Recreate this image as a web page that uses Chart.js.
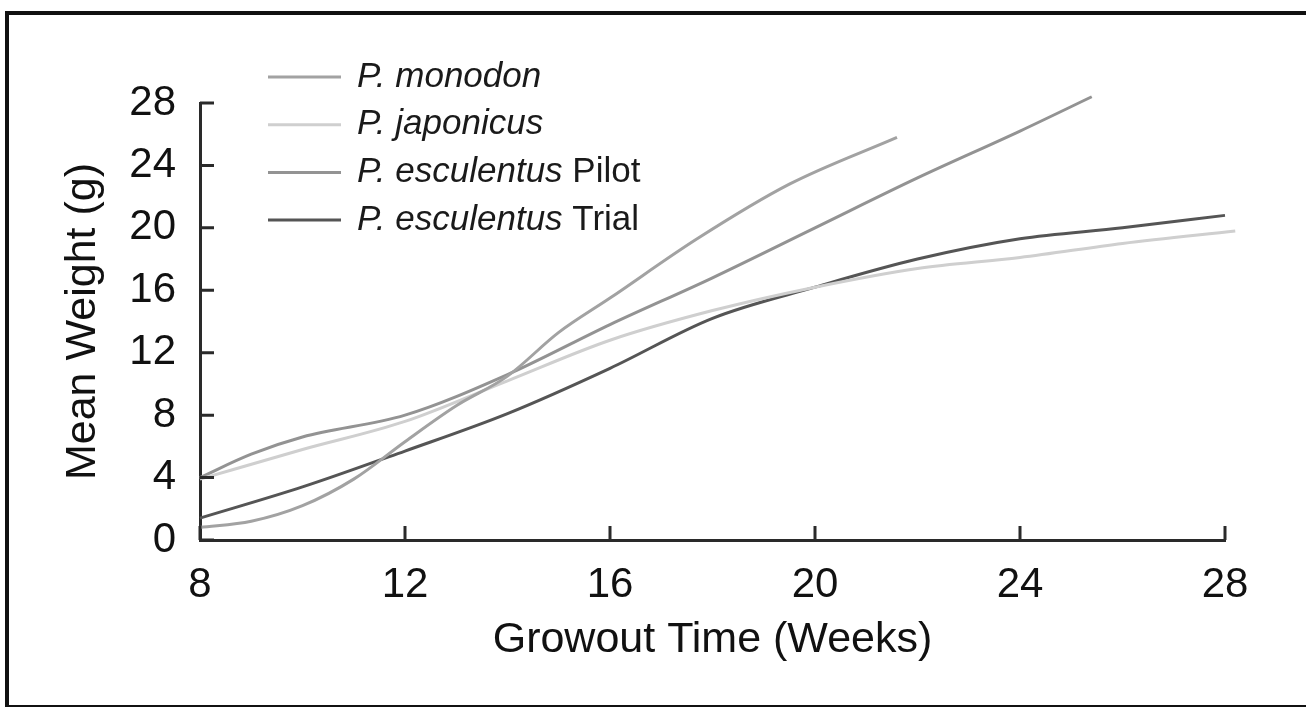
<!DOCTYPE html>
<html>
<head>
<meta charset="utf-8">
<script src="https://cdn.jsdelivr.net/npm/chart.js@4.4.1/dist/chart.umd.min.js"></script>
<style>
  html, body { margin: 0; padding: 0; background: #fff; }
  #wrap { position: relative; width: 1306px; height: 707px; overflow: hidden; }
  #frame { position: absolute; left: 5px; top: 11px; width: 1400px; height: 690px;
           border-left: 4px solid #111; border-top: 4px solid #111; border-bottom: 3px solid #111; }
  canvas { position: absolute; left: 0; top: 0; }
</style>
</head>
<body>
<div id="wrap">
  <div id="frame"></div>
  <canvas id="myChart"></canvas>
</div>
<script>
// series data (weeks, mean weight in g)
var monodonWeeks  = [8, 9, 10, 11, 12, 13, 14, 15, 16, 17.7, 19.5, 21.6];
var monodonWeight = [0.8, 1.2, 2.2, 3.9, 6.3, 8.6, 10.5, 13.3, 15.5, 19.3, 22.8, 25.8];

var japonicusWeeks  = [8, 10, 12, 14, 16, 18, 20, 22, 24, 26, 28.2];
var japonicusWeight = [3.9, 5.8, 7.6, 10.2, 12.8, 14.7, 16.2, 17.4, 18.1, 19.0, 19.8];

var pilotWeeks  = [8, 9, 10, 12, 14, 16, 18, 20, 22, 24, 25.4];
var pilotWeight = [4.0, 5.5, 6.6, 8.0, 10.6, 13.8, 16.8, 20.0, 23.2, 26.2, 28.4];

var trialWeeks  = [8, 10, 12, 14, 16, 18, 20, 22, 24, 26, 28];
var trialWeight = [1.4, 3.4, 5.7, 8.1, 11.0, 14.2, 16.2, 18.0, 19.3, 20.0, 20.8];

var seriesItalic = ['P. monodon', 'P. japonicus', 'P. esculentus', 'P. esculentus'];
var seriesSuffix = ['', '', ' Pilot', ' Trial'];
var seriesColors = ['#a2a2a2', '#cfcfcf', '#939393', '#555555'];

var xTicks = [8, 12, 16, 20, 24, 28];
var yTicks = [0, 4, 8, 12, 16, 20, 24, 28];

var FONT = '"Liberation Sans", Arial, sans-serif';

function pts(xs, ys) {
  return xs.map(function (x, i) { return {x: x, y: ys[i]}; });
}

// inward tick marks
var tickPlugin = {
  id: 'inTicks',
  afterDraw: function (chart) {
    var ctx = chart.ctx;
    var xs = chart.scales.x, ys = chart.scales.y;
    var ca = chart.chartArea;
    ctx.save();
    ctx.strokeStyle = '#2a2a2a';
    ctx.lineWidth = 3;
    ctx.beginPath();
    xTicks.forEach(function (t) {
      var px = xs.getPixelForValue(t);
      ctx.moveTo(px, ca.bottom);
      ctx.lineTo(px, ca.bottom - 14);
    });
    yTicks.forEach(function (t) {
      var py = ys.getPixelForValue(t);
      ctx.moveTo(ca.left, py);
      ctx.lineTo(ca.left + 14, py);
    });
    ctx.stroke();
    ctx.restore();
  }
};

// legend with italic species names
var legendPlugin = {
  id: 'sketchLegend',
  afterDraw: function (chart) {
    var ctx = chart.ctx;
    ctx.save();
    ctx.textBaseline = 'middle';
    chart.data.datasets.forEach(function (ds, i) {
      var y = 77 + i * 47.7;
      ctx.strokeStyle = ds.borderColor;
      ctx.lineWidth = 3;
      ctx.beginPath();
      ctx.moveTo(268, y);
      ctx.lineTo(341, y);
      ctx.stroke();
      ctx.fillStyle = '#1a1a1a';
      ctx.font = 'italic 35px ' + FONT;
      ctx.fillText(seriesItalic[i], 357, y);
      var w = ctx.measureText(seriesItalic[i]).width;
      ctx.font = '35px ' + FONT;
      ctx.fillText(seriesSuffix[i], 357 + w, y);
    });
    ctx.restore();
  }
};

var ctx = document.getElementById('myChart').getContext('2d');
ctx.canvas.width = 1306;
ctx.canvas.height = 707;
var chart = new Chart(ctx, {
  type: 'line',
  data: {
    datasets: [
      {label: 'P. monodon', data: pts(monodonWeeks, monodonWeight)},
      {label: 'P. japonicus', data: pts(japonicusWeeks, japonicusWeight)},
      {label: 'P. esculentus Pilot', data: pts(pilotWeeks, pilotWeight)},
      {label: 'P. esculentus Trial', data: pts(trialWeeks, trialWeight)}
    ].map(function (d, i) {
      d.borderColor = seriesColors[i];
      d.backgroundColor = seriesColors[i];
      d.borderWidth = 3;
      d.pointRadius = 0;
      d.cubicInterpolationMode = 'monotone';
      d.fill = false;
      d.clip = false;
      return d;
    })
  },
  options: {
    responsive: false,
    animation: false,
    events: [],
    layout: { padding: {left: 0, right: 81, top: 103, bottom: 0} },
    plugins: { legend: {display: false}, tooltip: {enabled: false} },
    scales: {
      x: {
        type: 'linear',
        min: 8, max: 28,
        afterBuildTicks: function (s) { s.ticks = xTicks.map(function (v) { return {value: v}; }); },
        afterFit: function (s) { s.height = 167; },
        grid: {display: false, drawTicks: false},
        border: {display: true, color: '#2a2a2a', width: 3},
        ticks: {color: '#111', padding: 20, font: {family: FONT, size: 42}},
        title: {display: true, text: 'Growout Time (Weeks)', color: '#111',
                padding: {top: 0, bottom: 41}, font: {family: FONT, size: 43}}
      },
      y: {
        min: 0, max: 28,
        afterBuildTicks: function (s) { s.ticks = yTicks.map(function (v) { return {value: v}; }); },
        afterFit: function (s) { s.width = 200; },
        grid: {display: false, drawTicks: false},
        border: {display: true, color: '#2a2a2a', width: 3},
        ticks: {color: '#111', padding: 24, font: {family: FONT, size: 42}},
        title: {display: true, text: 'Mean Weight (g)', color: '#111',
                padding: {top: 57, bottom: 0}, font: {family: FONT, size: 43}}
      }
    }
  },
  plugins: [tickPlugin, legendPlugin]
});
</script>
</body>
</html>
